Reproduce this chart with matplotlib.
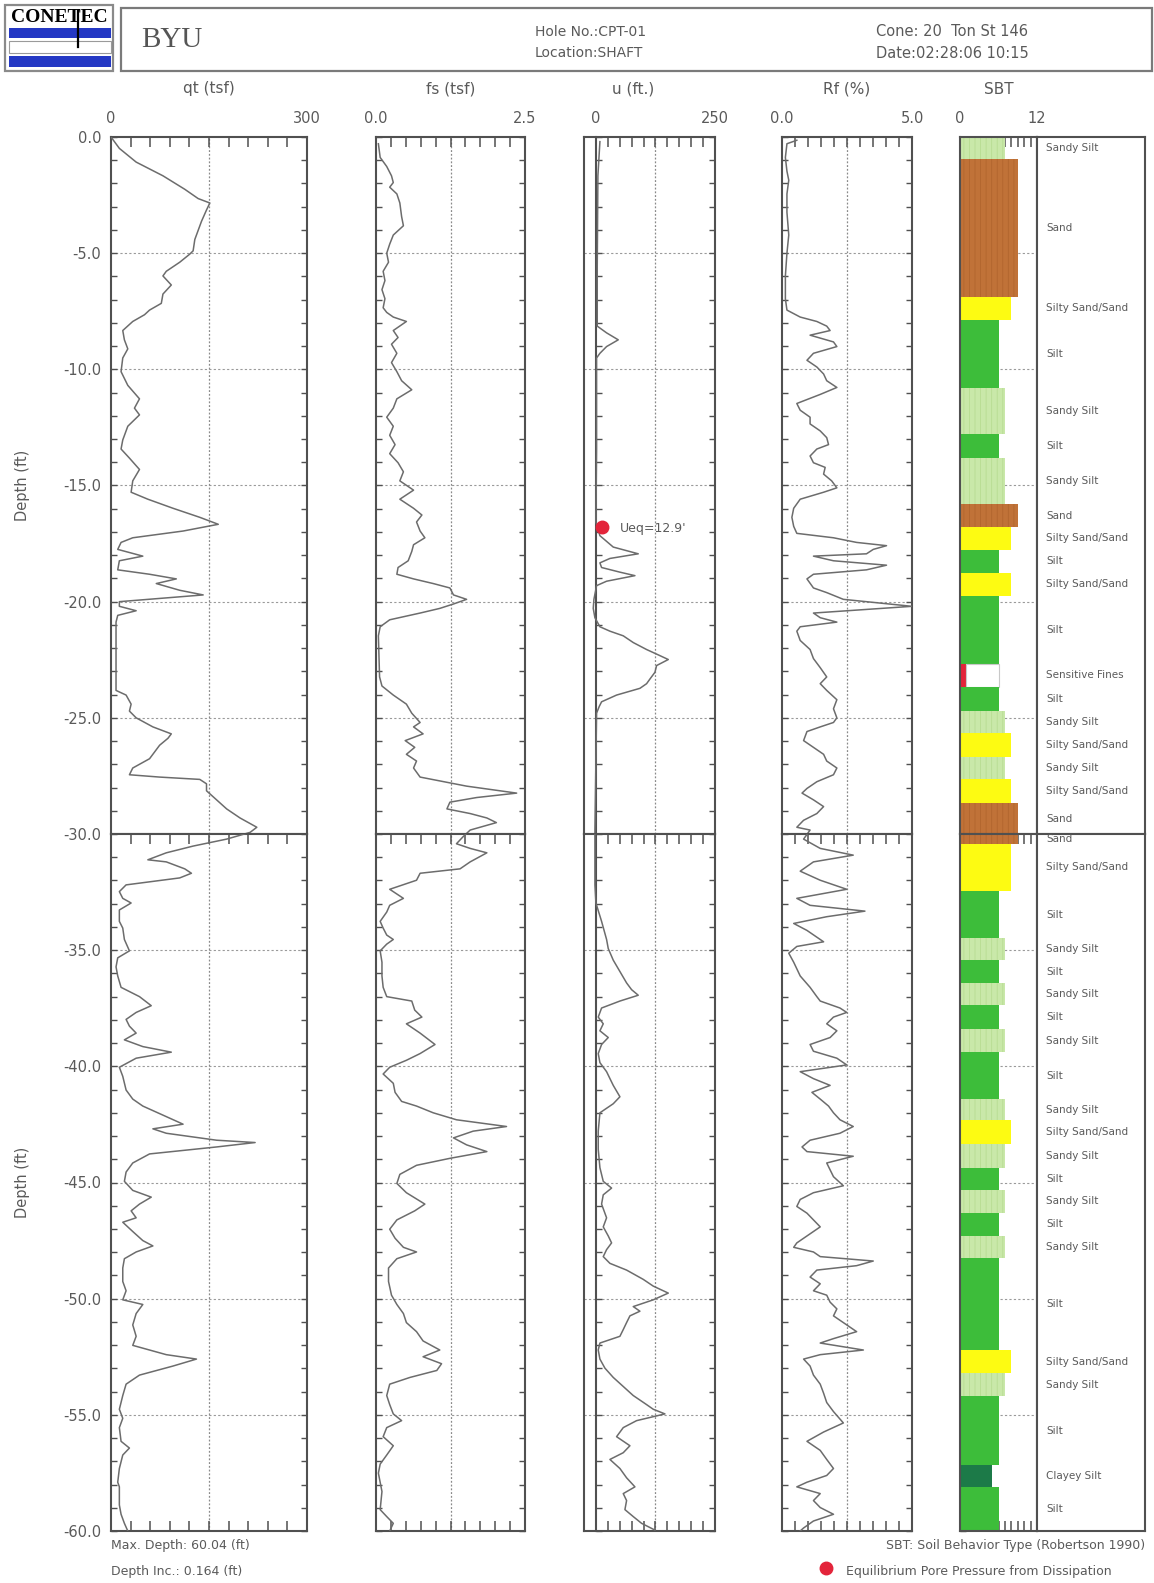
import numpy as np
import matplotlib
matplotlib.use('Agg')
import matplotlib.pyplot as plt
from matplotlib.patches import Rectangle
from matplotlib.lines import Line2D

plt.rcParams['axes.unicode_minus'] = False
plt.rcParams['font.family'] = ['DejaVu Sans']
plt.rcParams['hatch.linewidth'] = 0.6

W, H = 1154, 1583

# ---- CPT data (depth in ft, positive down) ----
qt_depth = [0.0, 0.49, 1.08, 1.67, 2.25, 2.65, 2.84, 3.14, 3.63, 4.02, 4.41, 4.90, 5.04, 5.39, 5.78,
            5.98, 6.37, 6.76, 7.16, 7.45, 7.65, 7.94, 8.33, 8.73, 9.12, 9.51, 10.10, 10.69, 11.27,
            11.67, 11.96, 12.45, 13.04, 13.43, 13.82, 14.31, 14.80, 15.29, 15.59, 15.98, 16.37,
            16.67, 16.96, 17.25, 17.45, 17.75, 18.04, 18.24, 18.63, 18.82, 19.02, 19.22, 19.51,
            19.71, 20.00, 20.20, 20.39, 20.59, 20.88, 23.82, 24.02, 24.41, 24.71, 25.00, 25.39,
            25.69, 25.88, 26.18, 26.76, 27.16, 27.45, 27.55, 27.65, 27.84, 28.14, 28.53, 28.92,
            29.31, 29.71, 29.93, 30.22, 30.52, 30.81, 31.11, 31.20, 31.50, 31.69, 31.89, 32.19,
            32.48, 32.77, 32.97, 33.27, 33.76, 34.05, 34.54, 35.03, 35.33, 35.72, 36.11, 36.60,
            37.00, 37.39, 37.68, 37.98, 38.27, 38.57, 38.86, 39.15, 39.39, 39.65, 40.04, 40.43,
            41.02, 41.41, 41.71, 42.10, 42.49, 42.69, 42.88, 43.18, 43.28, 43.47, 43.77, 44.16,
            44.55, 44.95, 45.34, 45.63, 45.93, 46.22, 46.52, 46.71, 47.11, 47.50, 47.73, 47.99,
            48.28, 48.68, 49.26, 49.66, 50.05, 50.25, 50.64, 51.13, 51.62, 52.01, 52.21, 52.41,
            52.60, 52.90, 53.29, 53.68, 54.17, 54.76, 55.15, 55.55, 56.14, 56.43, 56.73, 57.31,
            57.90, 58.10, 58.88, 59.28, 59.67, 60.00]
qt_tsf = [0.0, 12.8, 38.5, 79.5, 112.9, 133.4, 151.3, 146.2, 138.5, 133.4, 128.3, 125.7, 120.6, 105.2,
          84.6, 79.5, 92.3, 79.5, 77.0, 59.0, 51.3, 33.3, 18.0, 20.5, 25.7, 18.0, 15.4, 25.7, 43.6,
          35.9, 43.6, 25.7, 18.0, 15.4, 28.2, 43.6, 33.3, 30.8, 56.4, 94.9, 135.9, 164.2, 110.3,
          33.3, 15.4, 10.3, 48.7, 12.8, 10.3, 59.0, 100.0, 69.3, 105.2, 141.1, 12.8, 12.8, 38.5,
          10.3, 7.7, 7.7, 23.1, 30.8, 28.2, 38.5, 64.1, 92.3, 87.2, 74.4, 59.0, 33.3, 28.2, 74.4,
          135.9, 146.2, 146.2, 161.6, 177.0, 197.5, 223.2, 212.9, 177.0, 125.7, 84.6, 56.4, 84.6,
          112.9, 123.1, 105.2, 23.1, 12.8, 18.0, 30.8, 12.8, 12.8, 18.0, 20.5, 28.2, 10.3, 7.7,
          10.3, 15.4, 43.6, 61.6, 38.5, 23.1, 28.2, 38.5, 20.5, 48.7, 92.3, 38.5, 12.8, 18.0,
          23.1, 33.3, 48.7, 79.5, 110.3, 64.1, 84.6, 161.6, 220.6, 161.6, 59.0, 33.3, 23.1, 20.5,
          33.3, 61.6, 43.6, 30.8, 38.5, 18.0, 33.3, 48.7, 64.1, 38.5, 20.5, 18.0, 18.0, 23.1,
          18.0, 48.7, 38.5, 33.3, 38.5, 33.3, 59.0, 84.6, 130.8, 94.9, 43.6, 23.1, 18.0, 12.8,
          18.0, 12.8, 15.4, 28.2, 18.0, 12.8, 10.3, 12.8, 12.8, 15.4, 20.5, 25.7]

fs_depth = [0.29, 0.88, 1.27, 1.67, 1.96, 2.16, 2.45, 2.84, 3.43, 3.82, 4.22, 4.61, 5.00, 5.39, 5.78,
            6.18, 6.57, 6.96, 7.35, 7.55, 7.75, 7.94, 8.33, 8.63, 8.92, 9.31, 9.71, 10.10, 10.49,
            10.88, 11.27, 11.67, 12.06, 12.45, 12.84, 13.24, 13.63, 14.02, 14.41, 14.80, 15.20,
            15.59, 15.98, 16.27, 16.57, 16.96, 17.25, 17.55, 17.84, 18.24, 18.53, 18.82, 19.02,
            19.22, 19.41, 19.71, 19.90, 20.10, 20.29, 20.49, 20.78, 21.08, 21.47, 23.24, 23.63,
            24.02, 24.41, 24.80, 25.20, 25.39, 25.69, 25.98, 26.27, 26.57, 26.86, 27.16, 27.55,
            27.94, 28.24, 28.43, 28.63, 28.92, 29.12, 29.31, 29.51, 29.83, 30.12, 30.42, 30.62,
            30.81, 31.20, 31.50, 31.69, 31.99, 32.38, 32.77, 33.07, 33.36, 33.76, 34.05, 34.35,
            34.54, 34.74, 35.03, 35.52, 36.11, 36.60, 37.00, 37.19, 37.58, 37.88, 38.17, 38.57,
            39.06, 39.45, 39.74, 40.04, 40.33, 40.73, 41.12, 41.51, 41.71, 42.00, 42.30, 42.59,
            42.79, 43.08, 43.38, 43.67, 43.96, 44.26, 44.65, 45.04, 45.44, 45.93, 46.22, 46.61,
            47.01, 47.40, 47.79, 47.99, 48.28, 48.68, 49.26, 49.85, 50.25, 50.64, 51.03, 51.42,
            51.82, 52.21, 52.50, 52.80, 53.09, 53.39, 53.68, 54.17, 54.56, 54.96, 55.25, 55.55,
            55.94, 56.33, 56.73, 57.12, 57.51, 58.30, 59.08, 59.38, 59.67, 60.00]
fs_tsf = [0.04, 0.07, 0.18, 0.26, 0.29, 0.23, 0.35, 0.40, 0.43, 0.46, 0.29, 0.23, 0.18, 0.21, 0.12,
          0.15, 0.10, 0.15, 0.12, 0.18, 0.29, 0.51, 0.29, 0.37, 0.26, 0.35, 0.26, 0.35, 0.43, 0.60,
          0.35, 0.29, 0.18, 0.29, 0.23, 0.32, 0.23, 0.37, 0.46, 0.40, 0.63, 0.40, 0.63, 0.77, 0.68,
          0.74, 0.82, 0.63, 0.60, 0.54, 0.37, 0.35, 0.63, 0.96, 1.24, 1.30, 1.52, 1.30, 1.07, 0.74,
          0.23, 0.07, 0.04, 0.06, 0.10, 0.29, 0.51, 0.60, 0.74, 0.63, 0.79, 0.49, 0.65, 0.51, 0.68,
          0.63, 0.74, 1.52, 2.36, 1.69, 1.24, 1.19, 1.58, 1.86, 2.02, 1.58, 1.46, 1.35, 1.58, 1.86,
          1.58, 1.41, 0.74, 0.68, 0.23, 0.46, 0.23, 0.18, 0.07, 0.12, 0.18, 0.29, 0.18, 0.07, 0.10,
          0.10, 0.12, 0.18, 0.60, 0.65, 0.77, 0.51, 0.74, 0.99, 0.74, 0.51, 0.23, 0.12, 0.29, 0.32,
          0.43, 0.68, 0.96, 1.35, 2.19, 1.63, 1.30, 1.52, 1.86, 1.24, 0.68, 0.40, 0.35, 0.51, 0.82,
          0.65, 0.35, 0.23, 0.32, 0.46, 0.68, 0.35, 0.21, 0.21, 0.26, 0.35, 0.46, 0.51, 0.68, 0.79,
          1.07, 0.79, 1.10, 1.02, 0.57, 0.23, 0.18, 0.23, 0.29, 0.43, 0.18, 0.12, 0.29, 0.18, 0.07,
          0.04, 0.10, 0.07, 0.18, 0.29, 0.23]

u_depth = [0.20, 1.67, 5.59, 8.14, 8.43, 8.73, 9.02, 9.31, 9.51, 13.43, 16.57, 17.16, 17.65, 17.94,
           18.14, 18.33, 18.53, 18.73, 18.88, 19.12, 19.31, 19.90, 20.29, 20.69, 21.08, 21.27, 21.47,
           21.76, 22.06, 22.29, 22.49, 22.75, 23.04, 23.33, 23.53, 23.73, 24.02, 24.31, 24.51, 24.80,
           29.83, 32.19, 32.97, 33.76, 34.54, 34.93, 35.43, 35.92, 36.41, 36.70, 36.94, 37.19, 37.49,
           37.88, 38.17, 38.47, 38.76, 39.06, 39.45, 39.84, 40.23, 40.82, 41.31, 41.61, 42.00, 42.79,
           43.57, 44.36, 44.95, 45.24, 45.53, 45.93, 46.52, 46.91, 47.30, 47.60, 47.89, 48.19, 48.48,
           48.77, 49.17, 49.46, 49.76, 50.05, 50.34, 50.54, 50.74, 51.03, 51.33, 51.62, 51.91, 52.21,
           52.60, 52.99, 53.39, 53.78, 54.17, 54.56, 54.76, 54.96, 55.25, 55.55, 55.94, 56.33, 56.63,
           56.92, 57.31, 57.71, 58.10, 58.39, 58.69, 59.08, 59.38, 59.67, 59.96]
u_ft = [8.4, 4.2, 2.8, 2.8, 22.4, 46.9, 22.4, 8.4, 1.4, 1.4, 0.0, 8.4, 36.4, 88.9, 29.4, 8.4, 11.9,
        50.4, 81.9, 22.4, 1.4, -4.2, -5.6, -2.1, 8.4, 29.4, 57.4, 78.4, 106.4, 130.9, 151.9, 127.4,
        123.9, 113.4, 106.4, 92.4, 43.4, 11.9, 7.0, 1.4, -2.1, -2.1, 0.0, 11.9, 22.4, 25.9, 36.4,
        50.4, 64.4, 74.9, 88.9, 50.4, 11.9, 4.9, 15.4, 8.4, 25.9, 11.9, 4.9, 8.4, 22.4, 36.4, 50.4,
        36.4, 8.4, 4.9, 4.9, 8.4, 15.4, 32.9, 15.4, 11.9, 22.4, 15.4, 25.9, 32.9, 22.4, 15.4, 29.4,
        64.4, 99.4, 120.4, 151.9, 120.4, 78.4, 92.4, 71.4, 64.4, 57.4, 50.4, 8.4, 4.9, 8.4, 18.9,
        36.4, 57.4, 78.4, 106.4, 120.4, 144.9, 85.4, 57.4, 43.4, 71.4, 57.4, 29.4, 50.4, 64.4, 81.9,
        57.4, 64.4, 60.9, 78.4, 95.9, 123.9]

rf_depth = [0.14, 0.29, 0.88, 1.47, 1.86, 2.45, 3.24, 4.22, 5.00, 5.98, 6.96, 7.45, 7.75, 7.94, 8.14,
            8.33, 8.53, 8.82, 9.02, 9.31, 9.61, 9.90, 10.20, 10.49, 10.78, 11.08, 11.47, 11.76, 12.06,
            12.35, 12.65, 12.94, 13.24, 13.43, 13.73, 14.02, 14.22, 14.51, 14.80, 15.10, 15.29, 15.59,
            15.98, 16.37, 16.76, 17.06, 17.25, 17.45, 17.59, 17.75, 17.94, 18.04, 18.24, 18.43, 18.63,
            18.82, 19.02, 19.41, 19.61, 19.90, 20.20, 20.39, 20.49, 20.69, 20.88, 21.08, 21.27, 21.67,
            22.06, 22.45, 22.84, 23.24, 23.53, 23.82, 24.22, 24.61, 25.00, 25.20, 25.39, 25.59, 25.98,
            26.27, 26.57, 26.86, 27.16, 27.45, 27.75, 28.04, 28.24, 28.53, 28.82, 29.12, 29.41, 29.71,
            29.83, 30.22, 30.62, 30.91, 31.20, 31.60, 31.99, 32.38, 32.77, 33.07, 33.32, 33.56, 33.85,
            34.15, 34.44, 34.64, 34.84, 35.13, 35.52, 36.11, 36.60, 37.00, 37.19, 37.49, 37.68, 37.88,
            38.17, 38.47, 38.76, 39.06, 39.35, 39.65, 39.94, 40.23, 40.53, 40.82, 41.12, 41.41, 41.71,
            42.00, 42.30, 42.59, 42.88, 43.18, 43.47, 43.67, 43.87, 44.16, 44.46, 44.75, 45.14, 45.44,
            45.73, 46.03, 46.32, 46.61, 46.91, 47.30, 47.60, 47.79, 47.99, 48.19, 48.38, 48.58, 48.77,
            49.07, 49.36, 49.66, 49.85, 50.15, 50.44, 50.74, 51.13, 51.42, 51.72, 51.91, 52.21, 52.41,
            52.60, 52.90, 53.29, 53.68, 54.07, 54.47, 54.86, 55.35, 55.74, 56.14, 56.53, 56.92, 57.31,
            57.61, 57.90, 58.10, 58.39, 58.69, 58.99, 59.28, 59.57, 59.87, 60.00]
rf_pct = [0.57, 0.19, 0.13, 0.19, 0.26, 0.19, 0.19, 0.26, 0.19, 0.13, 0.13, 0.19, 0.70, 1.34, 1.72,
          1.85, 1.08, 1.98, 2.11, 1.21, 0.96, 1.34, 1.60, 1.72, 2.11, 1.47, 0.57, 0.70, 1.08, 1.08,
          1.47, 1.72, 1.79, 1.34, 1.08, 1.21, 1.66, 1.60, 1.91, 2.11, 1.60, 0.70, 0.45, 0.38, 0.45,
          0.57, 1.98, 2.87, 4.02, 3.51, 3.25, 1.21, 1.98, 4.02, 3.25, 1.21, 0.96, 1.21, 1.72, 2.36,
          5.00, 2.49, 1.21, 1.47, 2.11, 0.70, 0.57, 0.70, 1.08, 1.21, 1.47, 1.72, 1.47, 1.72, 2.11,
          1.98, 2.11, 1.98, 1.47, 0.96, 0.83, 1.21, 1.60, 1.72, 2.11, 1.98, 1.34, 0.96, 0.77, 1.21,
          1.60, 1.34, 0.83, 0.57, 1.08, 0.83, 1.47, 2.74, 1.21, 0.70, 1.47, 2.49, 0.57, 1.08, 3.19,
          1.72, 0.45, 0.96, 1.34, 1.60, 0.57, 0.26, 0.45, 0.70, 1.08, 1.34, 1.47, 2.23, 2.49, 1.98,
          1.72, 2.11, 1.85, 1.08, 1.21, 2.11, 2.49, 0.70, 1.21, 1.85, 1.15, 1.47, 1.79, 1.98, 2.23,
          2.74, 2.23, 1.08, 0.77, 0.96, 2.74, 1.72, 1.85, 1.98, 2.36, 1.21, 0.70, 0.57, 0.96, 1.21,
          1.47, 0.96, 0.57, 0.45, 1.21, 1.47, 3.51, 2.87, 1.34, 1.08, 1.47, 1.21, 1.72, 1.85, 2.11,
          1.98, 2.49, 2.87, 1.98, 1.47, 3.13, 1.47, 0.83, 1.08, 1.21, 1.47, 1.60, 1.72, 1.98, 2.36,
          1.60, 0.96, 1.47, 1.72, 1.98, 1.72, 0.96, 0.57, 1.47, 1.21, 1.47, 1.98, 1.21, 0.83, 0.70]

ueq_depth = 16.8
ueq_value = 12.9

# ---- SBT layers ----
sbt_top = [0.0, 0.96, 6.87, 7.88, 10.82, 12.80, 13.80, 15.81, 16.78, 17.78, 18.76, 19.76, 22.69,
           23.66, 24.70, 25.67, 26.70, 27.65, 28.68, 30.43, 32.44, 34.49, 35.43, 36.43, 37.37, 38.41,
           39.40, 41.39, 42.33, 43.33, 44.37, 45.31, 46.31, 47.30, 48.24, 52.22, 53.21, 54.20, 57.18,
           58.11]
max_depth = 60.04
sbt_type = ['Sandy Silt', 'Sand', 'Silty Sand/Sand', 'Silt', 'Sandy Silt', 'Silt', 'Sandy Silt', 'Sand',
            'Silty Sand/Sand', 'Silt', 'Silty Sand/Sand', 'Silt', 'Sensitive Fines', 'Silt',
            'Sandy Silt', 'Silty Sand/Sand', 'Sandy Silt', 'Silty Sand/Sand', 'Sand',
            'Silty Sand/Sand', 'Silt', 'Sandy Silt', 'Silt', 'Sandy Silt', 'Silt', 'Sandy Silt', 'Silt',
            'Sandy Silt', 'Silty Sand/Sand', 'Sandy Silt', 'Silt', 'Sandy Silt', 'Silt', 'Sandy Silt',
            'Silt', 'Silty Sand/Sand', 'Sandy Silt', 'Silt', 'Clayey Silt', 'Silt']
sbt_zone = {'Sensitive Fines': 1, 'Clayey Silt': 5, 'Silt': 6, 'Sandy Silt': 7,
            'Silty Sand/Sand': 8, 'Sand': 9}
sbt_color = {'Sensitive Fines': '#e3243a', 'Clayey Silt': '#1c7a48', 'Silt': '#3dbd3a',
             'Sandy Silt': '#c9e8a9', 'Silty Sand/Sand': '#fdfb12', 'Sand': '#c07238'}
sbt_stripe = {'Sandy Silt': '#b7dc92', 'Sand': '#b1652e'}

TXT = '#5a5a5a'
LINE = '#6c6c6c'
SPINE = '#505050'


def fx(x):
    return x / W


def fy(y):
    return 1 - y / H


def box(x0, x1, y0, y1):
    return [fx(x0), fy(y1), (x1 - x0) / W, (y1 - y0) / H]


fig = plt.figure(figsize=(W / 100, H / 100), dpi=100)

# ---- header ----
fig.add_artist(Rectangle((fx(5), fy(71)), fx(108), 66 / H, transform=fig.transFigure,
                         facecolor='white', edgecolor='#8a8a8a', lw=1.6))
fig.add_artist(Rectangle((fx(9), fy(38)), fx(102), 10 / H, transform=fig.transFigure,
                         facecolor='#2438c4', edgecolor='none'))
fig.add_artist(Rectangle((fx(9), fy(53)), fx(102), 12 / H, transform=fig.transFigure,
                         facecolor='white', edgecolor='#9a9a9a', lw=0.8))
fig.add_artist(Rectangle((fx(9), fy(67)), fx(102), 11 / H, transform=fig.transFigure,
                         facecolor='#2438c4', edgecolor='none'))
fig.add_artist(Line2D([fx(78), fx(78)], [fy(11), fy(47)], transform=fig.transFigure,
                      color='black', lw=1.6))
fig.text(fx(59), fy(18), 'CONETEC', family='Liberation Serif', weight='bold', fontsize=14,
         ha='center', va='center', color='black')

fig.add_artist(Rectangle((fx(121), fy(71)), fx(1031), 63 / H, transform=fig.transFigure,
                         facecolor='white', edgecolor='#7a7a7a', lw=1.6))
fig.text(fx(141), fy(40), 'BYU', family='Liberation Serif', fontsize=21, ha='left',
         va='center', color='#555555')
fig.text(fx(535), fy(32), 'Hole No.:CPT-01', fontsize=10, ha='left', va='center', color=TXT)
fig.text(fx(535), fy(53), 'Location:SHAFT', fontsize=10, ha='left', va='center', color=TXT)
fig.text(fx(876), fy(32), 'Cone: 20  Ton St 146', fontsize=10.5, ha='left', va='center', color=TXT)
fig.text(fx(876), fy(53), 'Date:02:28:06 10:15', fontsize=10.5, ha='left', va='center', color=TXT)

# ---- panels ----
panels = [
    # title, x0, x1, xmin, xmax, ticks, grid, end labels, depth, values
    ('qt (tsf)', 111, 307, 0, 300, np.arange(0, 301, 30), 150, ('0', '300'), qt_depth, qt_tsf),
    ('fs (tsf)', 376, 525, 0, 2.5, np.linspace(0, 2.5, 11), 1.25, ('0.0', '2.5'), fs_depth, fs_tsf),
    ('u (ft.)', 584, 715, -25, 250, np.arange(0, 251, 25), 125, ('0', '250'), u_depth, u_ft),
    ('Rf (%)', 782, 912, 0, 5, np.linspace(0, 5, 11), 2.5, ('0.0', '5.0'), rf_depth, rf_pct),
    ('SBT', 960, 1037, 0, 12, np.arange(0, 13, 1), None, ('0', '12'), None, None),
]
rows = [(0, -30, 137, 834), (-30, -60, 834, 1531)]

for r, (ytop, ybot, py0, py1) in enumerate(rows):
    for p, (title, x0, x1, xmin, xmax, ticks, grid, ends, dep, val) in enumerate(panels):
        ax = fig.add_axes(box(x0, x1, py0, py1))
        ax.set_xlim(xmin, xmax)
        ax.set_ylim(ybot, ytop)
        for s in ax.spines.values():
            s.set_color(SPINE)
            s.set_linewidth(1.5)

        labels = [''] * len(ticks)
        labels[0], labels[-1] = ends
        ax.set_xticks(ticks, labels)
        ax.tick_params(axis='x', direction='in', length=7, width=1.1, color=SPINE,
                       top=True, bottom=(r == 1), labeltop=(r == 0), labelbottom=False,
                       labelsize=10.5, labelcolor=TXT, pad=8)

        yt = np.arange(ybot, ytop + 0.01, 1.0)
        if p == 0:
            ylab = ['%.1f' % v if (v % 5 == 0 and not (r == 1 and v == ytop)) else '' for v in yt]
        else:
            ylab = [''] * len(yt)
        ax.set_yticks(yt, ylab)
        ax.tick_params(axis='y', direction='in', length=4, width=1.0, color=SPINE,
                       left=True, right=(p < 4), labelsize=10.5, labelcolor=TXT, pad=7)

        for g in range(int(ybot) + 5, int(ytop), 5):
            ax.axhline(g, color='#9a9a9a', lw=0.8, ls=(0, (2, 2)), zorder=0.5)
        if grid is not None:
            ax.axvline(grid, color='#8a8a8a', lw=0.9, ls=(0, (1.5, 1.5)), zorder=0.5)

        if p == 0:
            ax.set_ylabel('Depth (ft)', fontsize=10.5, color=TXT, labelpad=24)

        if title == 'u (ft.)':
            ax.spines['left'].set_position(('data', 0))
            ax.axvline(-25, color=SPINE, lw=1.5, clip_on=False)

        if dep is not None:
            ax.plot(val, -np.array(dep), color=LINE, lw=1.1, zorder=3)

        if title == 'u (ft.)' and r == 0:
            ax.plot([ueq_value], [-ueq_depth], 'o', color='#e3243a', ms=9, zorder=4)
            ax.text(50, -ueq_depth - 0.05, "Ueq=12.9'", fontsize=9, color=TXT, va='center',
                    ha='left')

        if title == 'SBT':
            tops = np.array(sbt_top)
            bots = np.append(tops[1:], max_depth)
            for t, b, name in zip(tops, bots, sbt_type):
                if name in sbt_stripe:
                    kw = dict(hatch='|||', edgecolor=sbt_stripe[name], linewidth=0)
                else:
                    kw = dict(edgecolor='none')
                ax.barh(-(t + b) / 2, sbt_zone[name], height=b - t, left=0,
                        color=sbt_color[name], zorder=2, **kw)
                if name == 'Sensitive Fines':
                    ax.barh(-(t + b) / 2, 5, height=b - t, left=1, color='white',
                            edgecolor='#c8c8c8', lw=0.8, zorder=2)

            # label column
            lab = fig.add_axes(box(1037, 1145, py0, py1))
            lab.set_xlim(0, 1)
            lab.set_ylim(ybot, ytop)
            lab.set_xticks([])
            lab.set_yticks([])
            for s in lab.spines.values():
                s.set_color(SPINE)
                s.set_linewidth(1.5)
            for t, b, name in zip(tops, bots, sbt_type):
                lt, lb = max(t, -ytop), min(b, -ybot)
                if lb <= lt:
                    continue
                lab.text(0.085, -(lt + lb) / 2, name, fontsize=7.5, color=TXT,
                         va='center', ha='left')

        if r == 0:
            fig.text(fx((x0 + x1) / 2 if title != 'u (ft.)' else 633), fy(89), title,
                     fontsize=11, color=TXT, ha='center', va='center')

# ---- footer ----
fig.text(fx(111), fy(1546), 'Max. Depth: 60.04 (ft)', fontsize=9, color=TXT, va='center')
fig.text(fx(111), fy(1571), 'Depth Inc.: 0.164 (ft)', fontsize=9, color=TXT, va='center')
fig.text(fx(1145), fy(1546), 'SBT: Soil Behavior Type (Robertson 1990)', fontsize=9, color=TXT,
         va='center', ha='right')
fig.add_artist(Line2D([fx(826)], [fy(1568)], marker='o', color='#e3243a', ms=9,
                      transform=fig.transFigure))
fig.text(fx(846), fy(1571), 'Equilibrium Pore Pressure from Dissipation', fontsize=9, color=TXT,
         va='center', ha='left')

fig.savefig('out.png', dpi=100, facecolor='white')
